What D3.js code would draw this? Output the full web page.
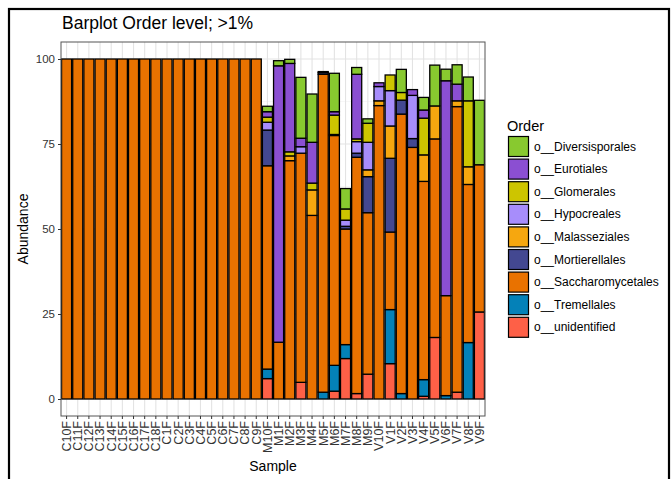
<!DOCTYPE html>
<html>
<head>
<meta charset="utf-8">
<script src="https://cdn.jsdelivr.net/npm/d3@7"></script>
<style>
  html, body { margin: 0; padding: 0; background: #fff; }
  svg { display: block; font-family: "Liberation Sans", Arial, Helvetica, sans-serif; }
</style>
</head>
<body>
<svg id="chart" width="672" height="479"></svg>
<script>
// Sample names, in axis order
const samples = [
  "C10F","C11F","C12F","C13F","C14F","C15F","C16F","C17F","C18F",
  "C1F","C2F","C3F","C4F","C5F","C6F","C7F","C8F","C9F",
  "M10F","M1F","M2F","M3F","M4F","M5F","M6F","M7F","M8F","M9F",
  "V10F","V1F","V2F","V3F","V4F","V5F","V6F","V7F","V8F","V9F"
];

// Orders, in legend order (first is stacked on top)
const orders = [
  "o__Diversisporales","o__Eurotiales","o__Glomerales","o__Hypocreales",
  "o__Malasseziales","o__Mortierellales","o__Saccharomycetales",
  "o__Tremellales","o__unidentified"
];

const orderColors = [
  "#88c92f","#8b4fd2","#cdc500","#a78dfb",
  "#f6a70f","#434891","#e97200","#0481b8","#fe6047"
];

// Relative abundance (%) per order; the 18 C samples come first
const C0 = new Array(18).fill(0);
const diversisporales   = C0.concat([1.6,1.5,1.2,17.9,14.2,0.3,11.3,6.0,2.0,1.3, 0,0,6.8,0,3.7,12.0,3.4,5.7,7.0,18.95]);
const eurotiales        = C0.concat([1.6,81.3,26.0,2.5,12.0,0,1.0,0,19.0,0, 1.1,0,0,1.7,2.4,0,63.2,4.9,0,0]);
const glomerales        = C0.concat([1.5,0,1.2,0,2.0,0,5.7,3.3,0.8,5.6, 0,4.6,2.25,0,10.8,0,0,0,19.4,0]);
const hypocreales       = C0.concat([2.3,0,0,1.9,0,0,0,1.8,3.4,8.1, 4.2,10.4,0,12.7,0,0,0,0,0,0]);
const malasseziales     = C0.concat([0,0,1.4,0,7.5,0,0,0,0,2.0, 1.4,9.5,0,0,7.8,9.7,0,1.7,5.2,0]);
const mortierellales    = C0.concat([10.5,0,0,0,0,0.5,0.3,0.8,1.2,10.6, 0,21.7,4.1,2.6,0,0,0,0,0,0]);
const saccharomycetales = new Array(18).fill(100).concat([59.8,16.7,70.1,67.4,54.0,93.5,67.6,34.0,69.5,47.5, 86.3,22.8,82.2,74.0,58.3,58.4,29.4,84.0,46.5,43.3]);
const tremellales       = C0.concat([2.8,0,0,0,0,2.0,7.6,4.1,0,0, 0,15.9,1.6,0,4.9,0,1.0,0,16.6,0]);
const unidentified      = C0.concat([6.0,0,0,4.9,0,0,2.3,11.9,1.6,7.3, 0,10.4,0,0,0.8,18.1,0,2.0,0,25.6]);

const yTicks = [0, 25, 50, 75, 100];

const seriesValues = [
  diversisporales, eurotiales, glomerales, hypocreales, malasseziales,
  mortierellales, saccharomycetales, tremellales, unidentified
];

// Table: one row per sample, one column per order
const table = samples.map((s, i) => {
  const row = { Sample: s };
  orders.forEach((o, j) => { row[o] = seriesValues[j][i]; });
  return row;
});

const svg = d3.select("#chart");
const panel = { left: 61, right: 485, top: 42, bottom: 416 };

const x = d3.scaleBand()
  .domain(samples)
  .range([panel.left, panel.right])
  .paddingInner(0.1)
  .paddingOuter(0.05);

const y = d3.scaleLinear()
  .domain([-5, 105])
  .range([panel.bottom, panel.top]);

const color = d3.scaleOrdinal().domain(orders).range(orderColors);

// Outer frame
svg.append("rect")
  .attr("x", 9).attr("y", 9).attr("width", 660).attr("height", 490)
  .attr("fill", "none").attr("stroke", "#000").attr("stroke-width", 2.2);

// Panel background and grid
const gGrid = svg.append("g");
gGrid.append("rect")
  .attr("x", panel.left).attr("y", panel.top)
  .attr("width", panel.right - panel.left).attr("height", panel.bottom - panel.top)
  .attr("fill", "#fff");

const minorY = [12.5, 37.5, 62.5, 87.5];
gGrid.selectAll(".minor").data(minorY).join("line")
  .attr("x1", panel.left).attr("x2", panel.right)
  .attr("y1", d => y(d)).attr("y2", d => y(d))
  .attr("stroke", "#f2f2f2").attr("stroke-width", 0.6);
gGrid.selectAll(".majorY").data(yTicks).join("line")
  .attr("x1", panel.left).attr("x2", panel.right)
  .attr("y1", d => y(d)).attr("y2", d => y(d))
  .attr("stroke", "#e3e3e3").attr("stroke-width", 1.1);
gGrid.selectAll(".majorX").data(samples).join("line")
  .attr("x1", d => x(d) + x.bandwidth() / 2).attr("x2", d => x(d) + x.bandwidth() / 2)
  .attr("y1", panel.top).attr("y2", panel.bottom)
  .attr("stroke", "#e3e3e3").attr("stroke-width", 1.1);

// Stacked bars: last order at the bottom
const stackOrder = orders.slice().reverse();
const stacked = d3.stack().keys(stackOrder)(table);

svg.append("g").selectAll("g").data(stacked).join("g")
  .attr("fill", d => color(d.key))
  .selectAll("rect").data(d => d.filter(p => p[1] - p[0] > 0)).join("rect")
  .attr("x", d => x(d.data.Sample))
  .attr("width", x.bandwidth())
  .attr("y", d => y(d[1]))
  .attr("height", d => y(d[0]) - y(d[1]))
  .attr("stroke", "#000").attr("stroke-width", 1.3);

// Panel border
svg.append("rect")
  .attr("x", panel.left).attr("y", panel.top)
  .attr("width", panel.right - panel.left).attr("height", panel.bottom - panel.top)
  .attr("fill", "none").attr("stroke", "#555").attr("stroke-width", 1);

// Y axis
const yAxis = svg.append("g")
  .attr("transform", `translate(${panel.left},0)`)
  .call(d3.axisLeft(y).tickValues(yTicks).tickSize(3).tickPadding(3));
yAxis.select(".domain").remove();
yAxis.selectAll("line").attr("stroke", "#333");
yAxis.selectAll("text").attr("fill", "#333").style("font-size", "11.5px")
  .style("font-family", "'Liberation Sans', Arial, sans-serif");

// X axis with vertical labels
const xAxis = svg.append("g")
  .attr("transform", `translate(0,${panel.bottom})`)
  .call(d3.axisBottom(x).tickSize(3).tickPadding(2));
xAxis.select(".domain").remove();
xAxis.selectAll("line").attr("stroke", "#333");
xAxis.selectAll("text")
  .attr("fill", "#333").style("font-size", "12.5px")
  .style("font-family", "'Liberation Sans', Arial, sans-serif")
  .attr("transform", "rotate(-90)")
  .attr("text-anchor", "end")
  .attr("x", -5).attr("y", 0).attr("dy", "0.35em");

// Titles
svg.append("text")
  .attr("x", 62).attr("y", 29)
  .style("font-size", "17.5px").attr("fill", "#000")
  .text("Barplot Order level; >1%");

svg.append("text")
  .attr("x", (panel.left + panel.right) / 2).attr("y", 471)
  .attr("text-anchor", "middle")
  .style("font-size", "14px").attr("fill", "#000")
  .text("Sample");

svg.append("text")
  .attr("transform", `translate(28,${(panel.top + panel.bottom) / 2}) rotate(-90)`)
  .attr("text-anchor", "middle")
  .style("font-size", "14px").attr("fill", "#000")
  .text("Abundance");

// Legend
const legend = svg.append("g").attr("transform", "translate(508,0)");
legend.append("text")
  .attr("x", -1).attr("y", 131)
  .style("font-size", "14.5px").attr("fill", "#000")
  .text("Order");

const items = legend.selectAll(".item").data(orders).join("g")
  .attr("transform", (d, i) => `translate(0,${136 + i * 22.6})`);
items.append("rect")
  .attr("x", 0.5).attr("y", 0.5).attr("width", 20).attr("height", 20)
  .attr("fill", d => color(d)).attr("stroke", "#000").attr("stroke-width", 1.2);
items.append("text")
  .attr("x", 26).attr("y", 10.5).attr("dy", "0.35em")
  .style("font-size", "12px").attr("fill", "#000")
  .text(d => d);
</script>
</body>
</html>
